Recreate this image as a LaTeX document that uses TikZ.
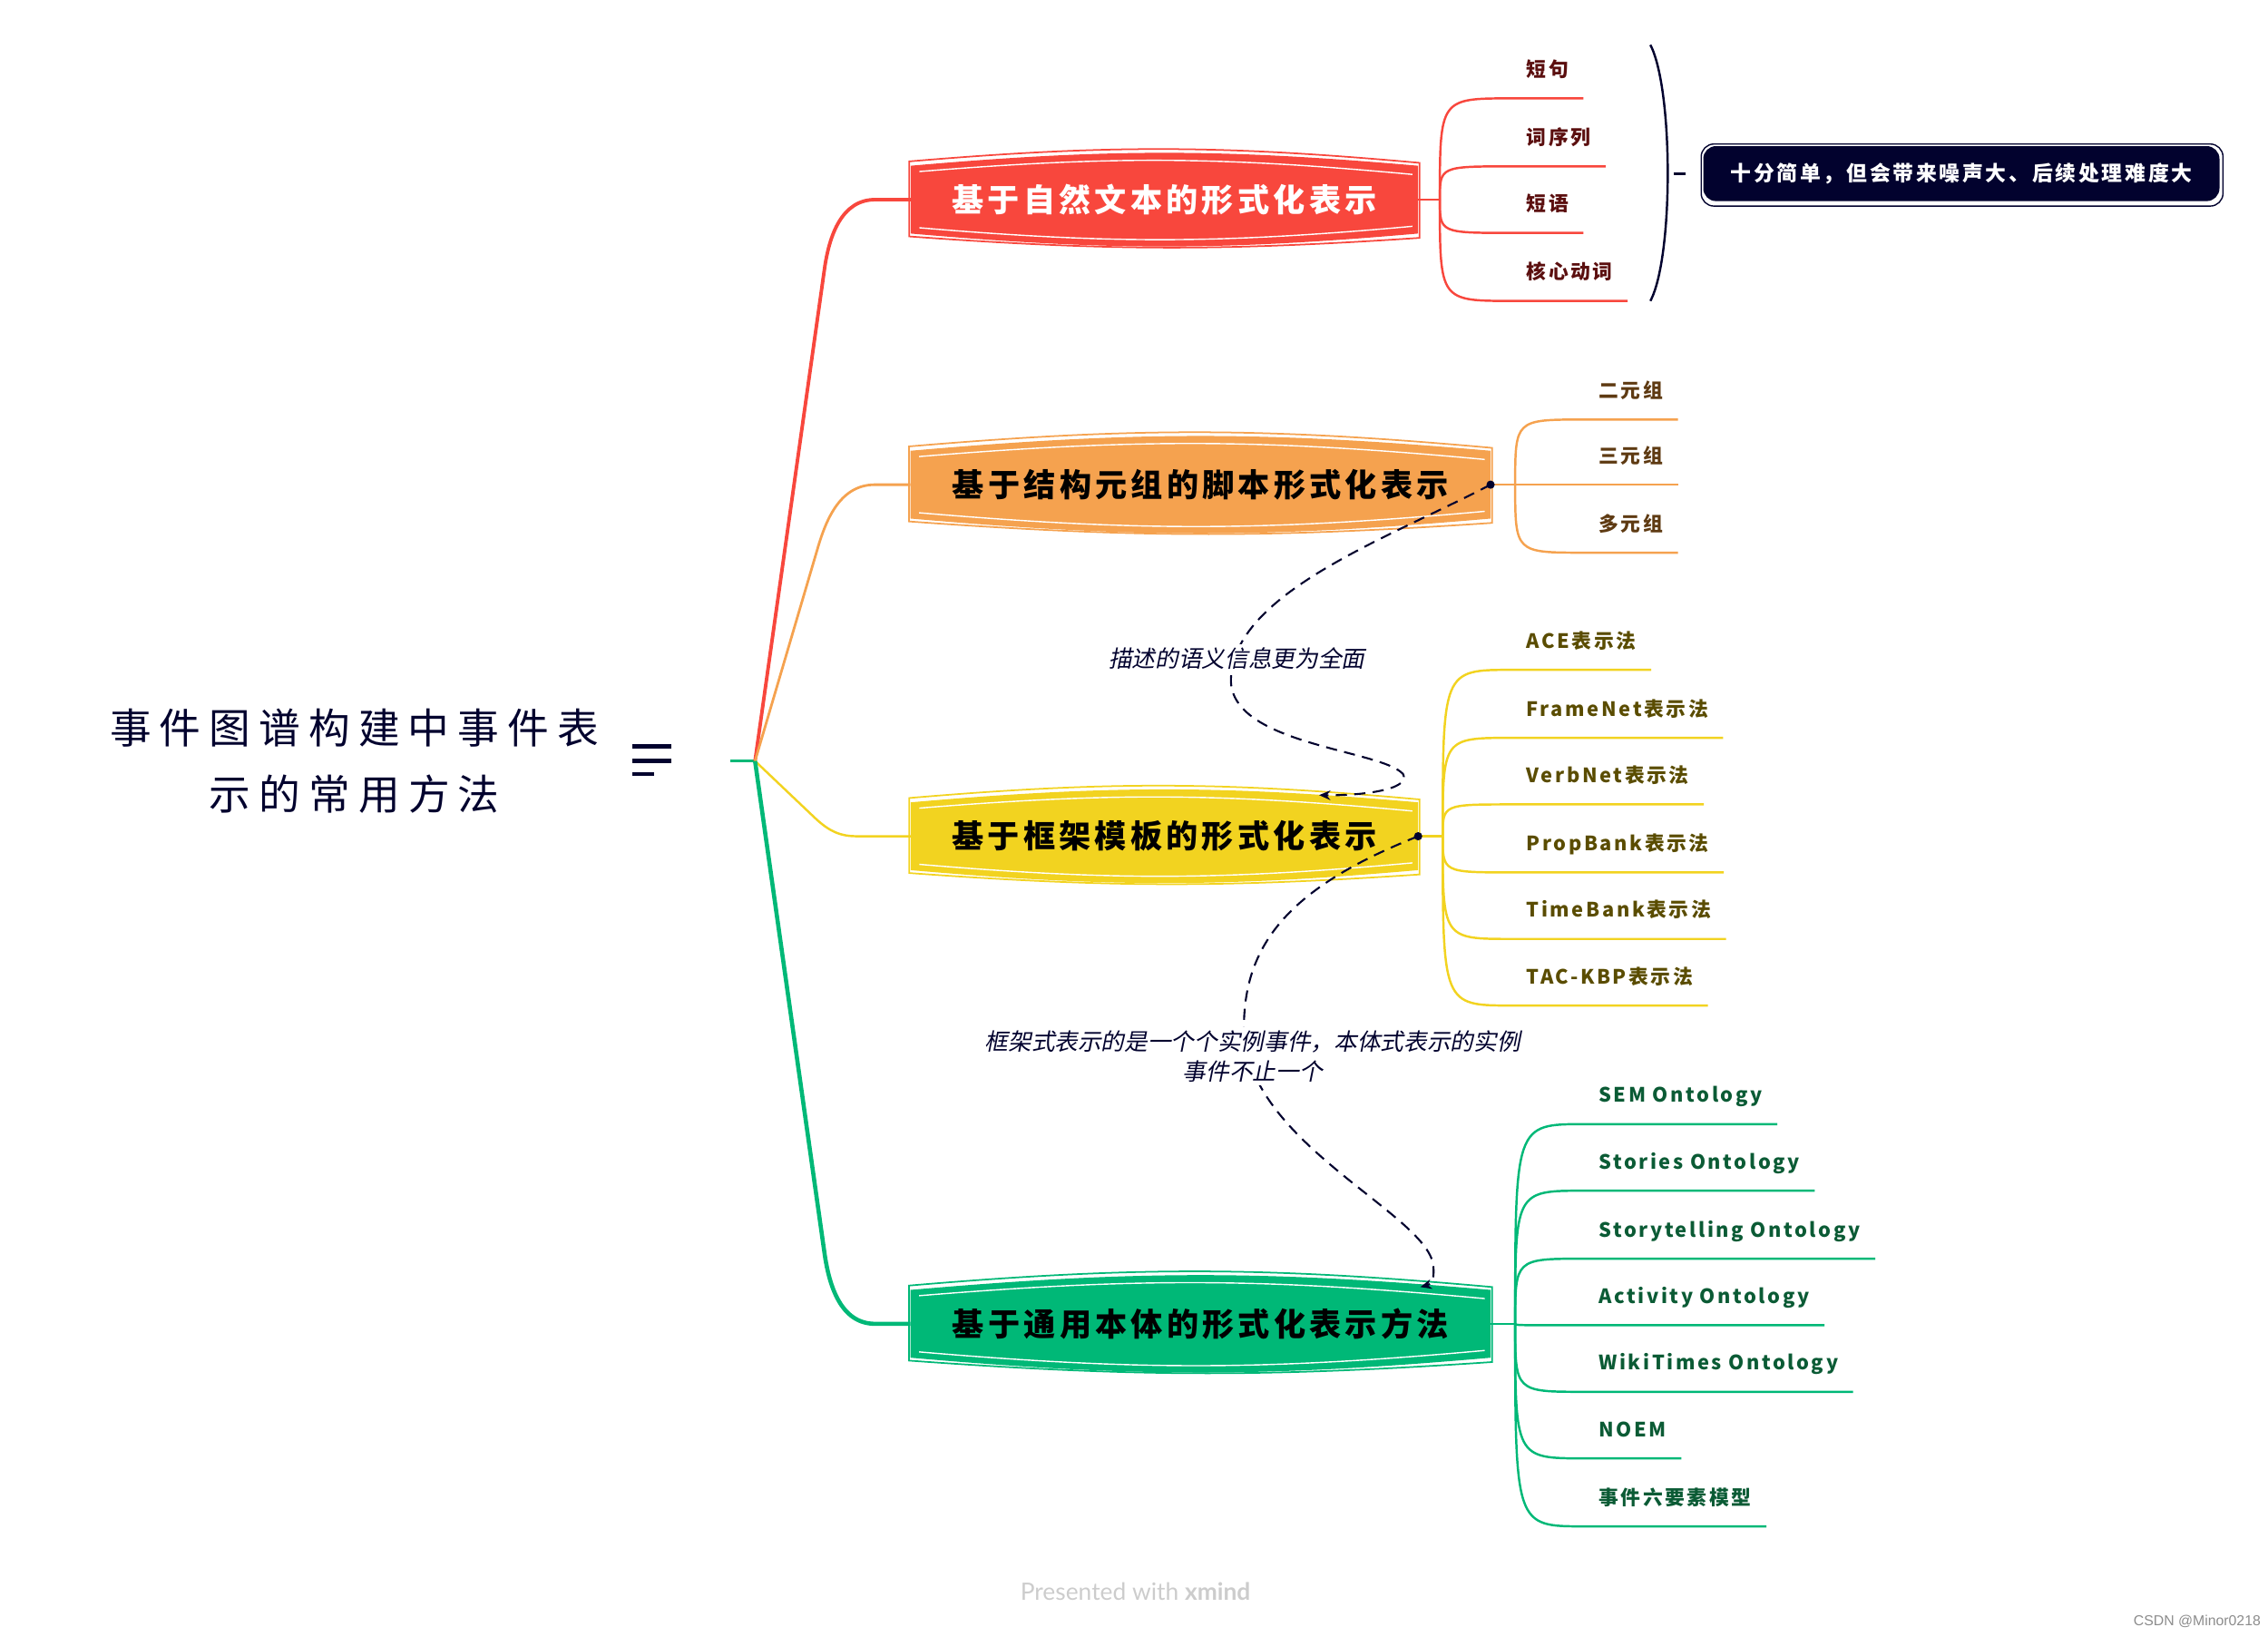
\documentclass[tikz,border=0pt]{standalone}
\usepackage{fontspec}
\setmainfont{Noto Sans CJK SC}
\newfontfamily\titlefont[LetterSpace=20]{Noto Sans CJK SC}
\newfontfamily\topicfont[LetterSpace=12]{Noto Sans CJK SC}
\newfontfamily\notefont[FakeSlant=0.2]{Noto Sans CJK SC}
\newfontfamily\footfont{Lato}
\newfontfamily\csdnfont{Liberation Sans}
\usetikzlibrary{arrows.meta,calc,backgrounds,positioning}

\definecolor{navy}{HTML}{02022E}
\definecolor{topred}{HTML}{F8473D}
\definecolor{toporange}{HTML}{F5A24F}
\definecolor{topyellow}{HTML}{F2D320}
\definecolor{topgreen}{HTML}{00B877}
\definecolor{leafred}{HTML}{5B0F0F}
\definecolor{leaforange}{HTML}{5E3A12}
\definecolor{leafyellow}{HTML}{5A4C00}
\definecolor{leafgreen}{HTML}{0B5B35}

% sketchy bulged box behind a topic node
\newcommand{\topicbg}[2]{%
  \fill[#2] (#1.north west) to[bend left=5] (#1.north east) -- (#1.south east) to[bend left=5] (#1.south west) -- cycle;
  \draw[#2, line width=0.5pt] ([shift={(-1,-3)}]#1.north west) to[bend left=5] ([shift={(1,-2)}]#1.north east) -- ([shift={(1,3)}]#1.south east) to[bend left=4] ([shift={(-1,2)}]#1.south west) -- cycle;
  \draw[white, line width=0.4pt] ([shift={(6,4)}]#1.north west) to[bend left=5] ([shift={(-4,6)}]#1.north east);
  \draw[white, line width=0.4pt] ([shift={(-4,-5)}]#1.south east) to[bend left=5] ([shift={(6,-4)}]#1.south west);
}

\begin{document}
\begin{tikzpicture}[x=0.15944mm, y=-0.15944mm,
    topic/.style={rectangle, minimum height=7.33mm, inner xsep=0pt, font=\topicfont\bfseries\fontsize{10}{12}\selectfont},
    leaf/.style={anchor=south west, inner xsep=4.5pt, inner ysep=5.6pt, text height=5pt, text depth=1pt, font=\topicfont\bfseries\fontsize{6.2}{7}\selectfont},
    branch/.style={line width=0.7pt},
    relation/.style={navy, line width=0.6pt, dash pattern=on 3.5pt off 2.3pt, -{Stealth[length=3.5pt,width=3pt]}},
    note/.style={fill=white, inner sep=1pt, text=navy, font=\notefont\fontsize{7.3}{9.5}\selectfont, align=center},
    summary/.style={rectangle, fill=navy, rounded corners=4pt, minimum width=56.9mm, minimum height=6.06mm, text=white, font=\topicfont\bfseries\fontsize{6.5}{8}\selectfont}
]
\useasboundingbox (0,0) rectangle (1568,1131);

% Central topic
\node[align=center, text=navy, font=\titlefont\fontsize{13}{20.8}\selectfont] (title) at (245,526) {事件图谱构建中事件表\\示的常用方法};
\draw[navy, line width=1.3pt] (437,516) -- (464,516);
\draw[navy, line width=1.3pt] (437,526) -- (464,526);
\draw[navy, line width=1.3pt] (437,535) -- (452,535);
\coordinate (root) at (522,526);
\draw[topgreen, line width=1pt] (505,526) -- (root);

% Main topics
\node[topic, minimum width=55.8mm, text=white] (t1) at (805,138) {基于自然文本的形式化表示};
\node[topic, minimum width=63.8mm] (t2) at (830,335) {基于结构元组的脚本形式化表示};
\node[topic, minimum width=55.8mm] (t3) at (805,578) {基于框架模板的形式化表示};
\node[topic, minimum width=63.8mm] (t4) at (830,915) {基于通用本体的形式化表示方法};

\begin{pgfonlayer}{background}
\topicbg{t1}{topred}
\topicbg{t2}{toporange}
\topicbg{t3}{topyellow}
\topicbg{t4}{topgreen}
\end{pgfonlayer}

% Branches from the root
\draw[topred, line width=1.1pt] (root) -- (570,186) to[out=82, in=180] (605,138) -- (t1.west);
\draw[toporange, line width=0.8pt] (root) -- (565,380) to[out=74, in=180] (605,335) -- (t2.west);
\draw[topyellow, line width=0.7pt] (root) -- (562,564) to[out=-44, in=180] (592,578) -- (t3.west);
\draw[topgreen, line width=1.3pt] (root) -- (570,866) to[out=-82, in=180] (605,915) -- (t4.west);

% Stubs
\coordinate (t1s) at ($(t1.east)+(15,0)$);
\coordinate (t2s) at ($(t2.east)+(17,0)$);
\coordinate (t3s) at ($(t3.east)+(17,0)$);
\coordinate (t4s) at ($(t4.east)+(17,0)$);
\draw[branch, topred] (t1.east) -- (t1s);
\draw[branch, toporange] (t2.east) -- (t2s);
\draw[branch, topyellow] (t3.east) -- (t3s);
\draw[branch, topgreen] (t4.east) -- (t4s);

% Leaves of topic 1
\node[leaf, text=leafred] (l1a) at (1045,68) {短句};
\node[leaf, text=leafred] (l1b) at (1045,115) {词序列};
\node[leaf, text=leafred] (l1c) at (1045,161) {短语};
\node[leaf, text=leafred] (l1d) at (1045,208) {核心动词};
\draw[branch, topred] (t1s) .. controls (t1s |- l1a.south west) .. (l1a.south west) -- (l1a.south east);
\draw[branch, topred] (t1s) .. controls (t1s |- l1b.south west) .. (l1b.south west) -- (l1b.south east);
\draw[branch, topred] (t1s) .. controls (t1s |- l1c.south west) .. (l1c.south west) -- (l1c.south east);
\draw[branch, topred] (t1s) .. controls (t1s |- l1d.south west) .. (l1d.south west) -- (l1d.south east);

% Summary of topic 1
\coordinate (brtop) at (1141,31);
\coordinate (brbot) at (1141,208);
\draw[navy, line width=0.7pt] (brtop) .. controls (1157,62) and (1157,178) .. (brbot);
\node[summary] (summ) at (1356,120) {十分简单，但会带来噪声大、后续处理难度大};
\draw[navy, line width=0.4pt, rounded corners=4pt] ([shift={(-1,-1)}]summ.north west) rectangle ([shift={(2,3)}]summ.south east);
\draw[navy, line width=0.7pt] ([shift={(-20,0)}]summ.west) -- ([shift={(-12,0)}]summ.west);

% Leaves of topic 2
\node[leaf, text=leaforange] (l2a) at (1095,290) {二元组};
\node[leaf, text=leaforange] (l2b) at (1095,335) {三元组};
\node[leaf, text=leaforange] (l2c) at (1095,382) {多元组};
\draw[branch, toporange] (t2s) .. controls (t2s |- l2a.south west) .. (l2a.south west) -- (l2a.south east);
\draw[branch, toporange] (t2s) .. controls (t2s |- l2b.south west) .. (l2b.south west) -- (l2b.south east);
\draw[branch, toporange] (t2s) .. controls (t2s |- l2c.south west) .. (l2c.south west) -- (l2c.south east);

% Leaves of topic 3
\node[leaf, text=leafyellow] (l3a) at (1045,463) {ACE表示法};
\node[leaf, text=leafyellow] (l3b) at (1045,510) {FrameNet表示法};
\node[leaf, text=leafyellow] (l3c) at (1045,556) {VerbNet表示法};
\node[leaf, text=leafyellow] (l3d) at (1045,603) {PropBank表示法};
\node[leaf, text=leafyellow] (l3e) at (1045,649) {TimeBank表示法};
\node[leaf, text=leafyellow] (l3f) at (1045,695) {TAC-KBP表示法};
\draw[branch, topyellow] (t3s) .. controls (t3s |- l3a.south west) .. (l3a.south west) -- (l3a.south east);
\draw[branch, topyellow] (t3s) .. controls (t3s |- l3b.south west) .. (l3b.south west) -- (l3b.south east);
\draw[branch, topyellow] (t3s) .. controls (t3s |- l3c.south west) .. (l3c.south west) -- (l3c.south east);
\draw[branch, topyellow] (t3s) .. controls (t3s |- l3d.south west) .. (l3d.south west) -- (l3d.south east);
\draw[branch, topyellow] (t3s) .. controls (t3s |- l3e.south west) .. (l3e.south west) -- (l3e.south east);
\draw[branch, topyellow] (t3s) .. controls (t3s |- l3f.south west) .. (l3f.south west) -- (l3f.south east);

% Leaves of topic 4
\node[leaf, text=leafgreen] (l4a) at (1095,777) {SEM Ontology};
\node[leaf, text=leafgreen] (l4b) at (1095,823) {Stories Ontology};
\node[leaf, text=leafgreen] (l4c) at (1095,870) {Storytelling Ontology};
\node[leaf, text=leafgreen] (l4d) at (1095,916) {Activity Ontology};
\node[leaf, text=leafgreen] (l4e) at (1095,962) {WikiTimes Ontology};
\node[leaf, text=leafgreen] (l4f) at (1095,1008) {NOEM};
\node[leaf, text=leafgreen] (l4g) at (1095,1055) {事件六要素模型};
\draw[branch, topgreen] (t4s) .. controls (t4s |- l4a.south west) .. (l4a.south west) -- (l4a.south east);
\draw[branch, topgreen] (t4s) .. controls (t4s |- l4b.south west) .. (l4b.south west) -- (l4b.south east);
\draw[branch, topgreen] (t4s) .. controls (t4s |- l4c.south west) .. (l4c.south west) -- (l4c.south east);
\draw[branch, topgreen] (t4s) .. controls (t4s |- l4d.south west) .. (l4d.south west) -- (l4d.south east);
\draw[branch, topgreen] (t4s) .. controls (t4s |- l4e.south west) .. (l4e.south west) -- (l4e.south east);
\draw[branch, topgreen] (t4s) .. controls (t4s |- l4f.south west) .. (l4f.south west) -- (l4f.south east);
\draw[branch, topgreen] (t4s) .. controls (t4s |- l4g.south west) .. (l4g.south west) -- (l4g.south east);

% Relations
\fill[navy] (t2.east) circle (1.3pt);
\draw[relation] (t2.east) .. controls (960,372) and (852,410) .. (851,470) .. controls (851,515) and (955,518) .. (970,535) .. controls (976,546) and (940,550) .. ($(t3.north)+(107,-5)$);
\node[note] (n1) at (855,455) {描述的语义信息更为全面};

\fill[navy] (t3.east) circle (1.3pt);
\draw[relation] (t3.east) .. controls (895,612) and (860,650) .. (860,710) .. controls (860,790) and (990,840) .. (991,876) .. controls (992,886) and (988,888) .. ($(t4.north)+(152,-2)$);
\node[note] (n2) at (866,730) {框架式表示的是一个个实例事件，本体式表示的实例\\事件不止一个};

% Footer
\node[text=black!20, font=\footfont\fontsize{7.5}{9}\selectfont] (brand) at (785,1100) {Presented with \textbf{xmind}};
\node[text=black!45, font=\csdnfont\fontsize{4.5}{5}\selectfont] (csdn) at (1519,1121) {CSDN @Minor0218};

\end{tikzpicture}
\end{document}
